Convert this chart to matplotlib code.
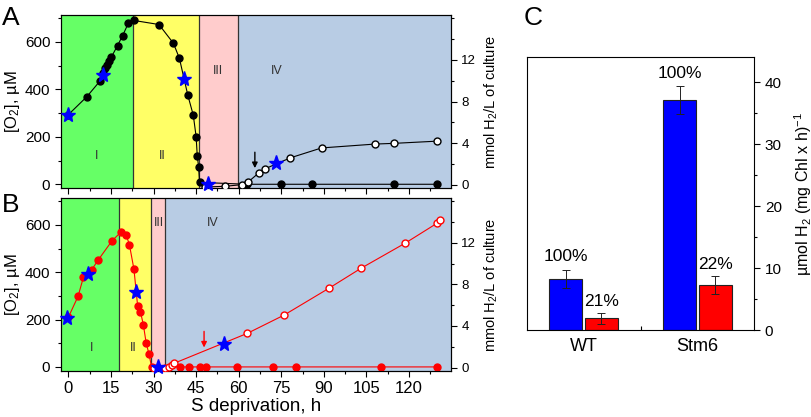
import numpy as np
import matplotlib.pyplot as plt
from matplotlib.ticker import MultipleLocator, FixedLocator

plt.rcParams['font.family'] = ['Liberation Sans', 'DejaVu Sans']
plt.rcParams['mathtext.fontset'] = 'custom'
plt.rcParams['mathtext.rm'] = 'Liberation Sans'
plt.rcParams['mathtext.it'] = 'Liberation Sans:italic'

# ---- panel A (WT) ----
a_o2_h = [-0.2, 6.5, 11.2, 12.3, 13.0, 13.5, 14.2, 15.1, 17.3, 19.1, 21.1, 23.1, 31.9, 37.0,
          39.1, 42.1, 44.0, 45.0, 45.4, 45.9, 46.2, 63.0, 75.0, 85.8, 114.7, 129.7]
a_o2 = [291, 369, 436, 470, 490, 504, 521, 535, 584, 626, 678, 690, 673, 594,
        531, 374, 291, 201, 120, 72, 8, 0, 0, 0, 0, 0]
a_h2_h = [48.1, 55.2, 61.2, 63.2, 67.1, 69.3, 78.2, 89.2, 108.0, 114.8, 129.9]
a_h2 = [-0.2, -0.13, 0.03, 0.25, 1.16, 1.55, 2.6, 3.55, 3.92, 3.99, 4.2]
a_star_h = [-0.2, 12.1, 40.8, 49.3]
a_star_o2 = [291, 462, 443, 0]
a_star_h2 = (73.0, 2.13)
a_phase = [22.9, 46.1, 59.9]
a_arrow = (65.7, 135, 68)

# ---- panel B (Stm6) ----
b_o2_h = [0.0, 3.4, 5.3, 8.2, 10.4, 15.4, 18.4, 20.3, 21.5, 23.1, 24.4, 25.4, 26.4, 27.4,
          28.4, 29.3, 39.2, 42.4, 46.2, 48.4, 59.3, 72.2, 80.2, 110.3, 130.0]
b_o2 = [210, 298, 379, 410, 450, 533, 568, 559, 516, 412, 257, 232, 179, 101,
        54, 0, 0, 0, 0, 0, 0, 0, 0, 0, 0]
b_h2_h = [30.0, 34.0, 35.6, 36.4, 37.3, 63.1, 76.0, 91.8, 103.1, 118.7, 130.0, 131.1]
b_h2 = [0, 0, 0.1, 0.23, 0.42, 3.3, 5.05, 7.63, 9.55, 11.97, 13.9, 14.15]
b_star_h = [-0.6, 7.0, 23.7, 31.6]
b_star_o2 = [208, 394, 316, 0]
b_star_h2 = (54.7, 2.27)
b_phase = [18.0, 29.2, 34.2]
b_arrow = (47.8, 150, 82)

# ---- panel C ----
strains = ['WT', 'Stm6']
rate_blue = [8.2, 37.1]
err_blue = [1.5, 2.2]
rate_red = [1.9, 7.25]
err_red = [0.9, 1.45]
pct_blue = ['100%', '100%']
pct_red = ['21%', '22%']

phase_colors = ['#66FF66', '#FFFF66', '#FFCCCC', '#B8CCE4']
phase_names = ['I', 'II', 'III', 'IV']

XLIM = (-2.7, 134.8)
YLIM = (-16, 713)
Y2LIM = (-0.3, 16.3)

fig = plt.figure(figsize=(8.12, 4.17), dpi=100)
axA = fig.add_axes([0.0748, 0.549, 0.4806, 0.415])
axB = fig.add_axes([0.0748, 0.111, 0.4806, 0.414])
axC = fig.add_axes([0.6486, 0.2086, 0.2804, 0.654])


def time_panel(ax, phase, labels_pos, o2_h, o2, h2_h, h2, st_h, st_o2, st_h2, arrow, col, show_x):
    edges = [XLIM[0]] + phase + [XLIM[1]]
    for i in range(4):
        ax.axvspan(edges[i], edges[i + 1], color=phase_colors[i], lw=0, zorder=0)
    for b in phase:
        ax.axvline(b, color='#333333', lw=0.9, zorder=1)
    for name, (x, y) in zip(phase_names, labels_pos):
        ax.text(x, y, name, ha='center', va='center', fontsize=9, color='#333333')

    ax.plot(o2_h, o2, '-o', color=col, lw=0.8, ms=5, mec=col, zorder=3)
    ax.annotate('', xy=(arrow[0], arrow[2]), xytext=(arrow[0], arrow[1]),
                arrowprops=dict(arrowstyle='-|>', color=col, lw=1.0, mutation_scale=8,
                                shrinkA=0, shrinkB=0))
    ax.set_xlim(XLIM)
    ax.set_ylim(YLIM)
    ax.xaxis.set_major_locator(MultipleLocator(15))
    ax.xaxis.set_minor_locator(MultipleLocator(7.5))
    ax.yaxis.set_major_locator(MultipleLocator(200))
    ax.yaxis.set_minor_locator(MultipleLocator(100))
    ax.tick_params(which='major', direction='out', length=4, width=0.8, labelsize=11)
    ax.tick_params(axis='x', labelsize=12)
    ax.tick_params(which='minor', direction='out', length=2.5, width=0.8)
    if not show_x:
        ax.tick_params(axis='x', labelbottom=False)
    ax.set_ylabel('[O$_2$], µM', fontsize=12)
    ax.yaxis.set_label_coords(-0.10, 0.5)

    ax2 = ax.twinx()
    ax2.plot(h2_h, h2, '-o', color=col, lw=0.8, ms=5, mfc='white', mec=col, zorder=3)
    # stars drawn on the top axes so they sit above every curve
    ax2.plot(st_h, st_o2, '*', color='#0000FF', ms=11, zorder=6, clip_on=False,
             transform=ax.transData)
    ax2.plot([st_h2[0]], [st_h2[1]], '*', color='#0000FF', ms=11, zorder=6)
    ax2.set_ylim(Y2LIM)
    ax2.yaxis.set_major_locator(FixedLocator([0, 4, 8, 12]))
    ax2.yaxis.set_minor_locator(FixedLocator([2, 6, 10, 14, 16]))
    ax2.tick_params(which='major', direction='out', length=4, width=0.8, labelsize=9.5)
    ax2.tick_params(which='minor', direction='out', length=2.5, width=0.8)
    ax2.set_ylabel('mmol H$_2$/L of culture', fontsize=10.5)
    ax2.yaxis.set_label_coords(1.082, 0.5)
    return ax2


time_panel(axA, a_phase, [(10, 120), (33.1, 120), (52.8, 479), (73.4, 479)],
           a_o2_h, a_o2, a_h2_h, a_h2, a_star_h, a_star_o2, a_star_h2, a_arrow,
           'black', False)
time_panel(axB, b_phase, [(8.2, 82), (22.7, 82), (32.0, 607), (50.9, 607)],
           b_o2_h, b_o2, b_h2_h, b_h2, b_star_h, b_star_o2, b_star_h2, b_arrow,
           '#FF0000', True)
axB.set_xlabel('S deprivation, h', fontsize=13.5, labelpad=1)

# ---- bars ----
xc = np.arange(1, len(strains) + 1)
w = 0.286
axC.bar(xc - 0.157, rate_blue, w, color='#0000FF', edgecolor='#222222', lw=0.8,
        yerr=err_blue, capsize=3, error_kw=dict(lw=0.7, capthick=0.7, ecolor='#222222'))
axC.bar(xc + 0.157, rate_red, w, color='#FF0000', edgecolor='#222222', lw=0.8,
        yerr=err_red, capsize=3, error_kw=dict(lw=0.7, capthick=0.7, ecolor='#222222'))
for i in range(len(strains)):
    axC.text(xc[i] - 0.157, rate_blue[i] + err_blue[i] + 0.9, pct_blue[i],
             ha='center', va='bottom', fontsize=12.5)
    axC.text(xc[i] + 0.157, rate_red[i] + err_red[i] + 0.6, pct_red[i],
             ha='center', va='bottom', fontsize=12.5)
axC.set_xlim(0.5, 2.5)
axC.set_ylim(0, 44)
axC.set_xticks(xc)
axC.set_xticklabels(strains, fontsize=13)
axC.set_xticks([1.5], minor=True)
axC.tick_params(axis='x', which='major', length=0, pad=6)
axC.tick_params(axis='x', which='minor', direction='in', length=3, width=0.8)
axC.yaxis.tick_right()
axC.yaxis.set_label_position('right')
axC.yaxis.set_major_locator(MultipleLocator(10))
axC.yaxis.set_minor_locator(MultipleLocator(5))
axC.tick_params(axis='y', which='major', direction='out', length=4, width=0.8, labelsize=11)
axC.tick_params(axis='y', which='minor', direction='out', length=2.5, width=0.8)
axC.set_ylabel('µmol H$_2$ (mg Chl x h)$^{-1}$', fontsize=11.5)
axC.yaxis.set_label_coords(1.165, 0.5)

fig.text(0.002, 0.985, 'A', fontsize=19, va='top')
fig.text(0.002, 0.537, 'B', fontsize=19, va='top')
fig.text(0.645, 0.985, 'C', fontsize=19, va='top')

fig.savefig('out.png', dpi=100)
